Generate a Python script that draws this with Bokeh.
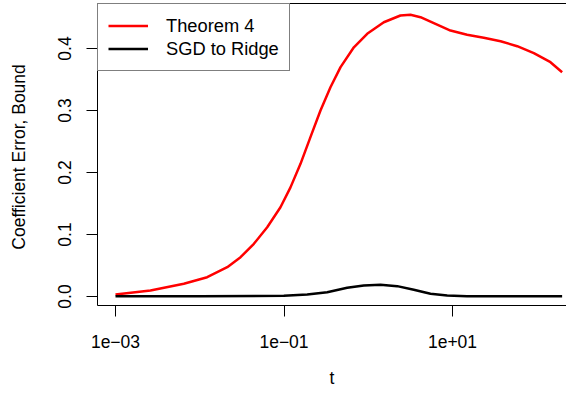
from bokeh.plotting import figure
from bokeh.models import (Range1d, FixedTicker, LinearAxis, Legend, LegendItem,
                          CustomJSTickFormatter, PrintfTickFormatter)
from bokeh.embed import file_html
from bokeh.resources import INLINE

# ---- data ----
theorem_t = [0.001, 0.0026, 0.00647, 0.01225, 0.0212, 0.0305, 0.0439, 0.0632, 0.0908,
             0.1194, 0.157, 0.206, 0.271, 0.356, 0.469, 0.675, 0.971, 1.53, 2.41,
             3.17, 4.17, 6.0, 9.46, 14.9, 23.5, 37.2, 58.6, 92.3, 145.5, 200]
theorem_v = [0.0032, 0.0097, 0.0205, 0.0311, 0.0473, 0.0634, 0.085, 0.1118, 0.144,
             0.176, 0.214, 0.257, 0.300, 0.3376, 0.370, 0.402, 0.4237, 0.4424, 0.4532,
             0.4544, 0.4505, 0.4408, 0.429, 0.4221, 0.4173, 0.4118, 0.4037, 0.3924, 0.3779, 0.3618]

sgd_t = [0.001, 0.01, 0.0995, 0.1885, 0.3256, 0.5625, 0.885, 1.398, 2.206, 3.473,
         5.48, 8.65, 14.9, 200]
sgd_v = [0.0005, 0.0006, 0.0011, 0.0032, 0.0069, 0.014, 0.0177, 0.0188, 0.0167, 0.0108,
         0.0043, 0.0016, 0.0005, 0.0005]

x_tick_vals = [0.001, 0.1, 10]
x_tick_labels = ["1e\u221203", "1e\u221201", "1e+01"]
y_tick_vals = [0.0, 0.1, 0.2, 0.3, 0.4]

FONT = "Liberation Sans"
FS = "17.5px"

p = figure(x_axis_type="log", output_backend="svg", toolbar_location=None,
           frame_width=469, frame_height=302,
           min_border_left=97, min_border_right=0, min_border_top=3, min_border_bottom=80,
           x_range=Range1d(10 ** -3.2136, 10 ** 2.353),
           y_range=Range1d(-0.01452, 0.4726))
p.outline_line_color = None
p.grid.visible = False
p.background_fill_color = "white"
p.border_fill_color = "white"

r1 = p.line(theorem_t, theorem_v, line_color="#ff0000", line_width=2.5, line_join="round")
r2 = p.line(sgd_t, sgd_v, line_color="black", line_width=2.5, line_join="round")

# x axis
xa = p.xaxis[0]
xa.ticker = FixedTicker(ticks=x_tick_vals)
xa.formatter = CustomJSTickFormatter(args=dict(vals=x_tick_vals, labs=x_tick_labels), code="""
let best = 0; let d = Infinity;
for (let i = 0; i < vals.length; i++) {
  const e = Math.abs(Math.log10(tick) - Math.log10(vals[i]));
  if (e < d) { d = e; best = i; }
}
return labs[best];
""")
xa.axis_label = "t"

# y axis
ya = p.yaxis[0]
ya.ticker = FixedTicker(ticks=y_tick_vals)
ya.formatter = PrintfTickFormatter(format="%.1f")
ya.axis_label = "Coefficient Error,  Bound"
ya.major_label_orientation = "vertical"

for ax in (xa, ya):
    ax.minor_tick_line_color = None
    ax.major_tick_out = 11
    ax.major_tick_in = 0
    ax.major_tick_line_color = "black"
    ax.axis_line_color = "black"
    ax.axis_line_width = 1
    ax.major_label_text_font = FONT
    ax.major_label_text_font_size = FS
    ax.major_label_text_color = "black"
    ax.axis_label_text_font = FONT
    ax.axis_label_text_font_size = FS
    ax.axis_label_text_font_style = "normal"
    ax.axis_label_text_color = "black"

xa.major_label_standoff = 18
xa.axis_label_standoff = 17
ya.major_label_standoff = 15
ya.axis_label_standoff = 27

# top border line
top = LinearAxis(ticker=FixedTicker(ticks=[]), major_tick_out=0, major_tick_in=0,
                 minor_tick_out=0, minor_tick_in=0, major_label_standoff=0,
                 axis_label_standoff=0, major_label_text_font_size="0px",
                 axis_line_color="black")
p.add_layout(top, "above")

legend = Legend(items=[LegendItem(label="Theorem 4", renderers=[r1]),
                       LegendItem(label="SGD to Ridge", renderers=[r2])],
                location="top_left", margin=0, padding=10, spacing=0,
                glyph_width=40, glyph_height=23, label_height=23, label_standoff=18,
                border_line_color="black", border_line_width=1,
                label_text_font=FONT, label_text_font_size="18.3px", label_text_color="black",
                background_fill_color="white", background_fill_alpha=1)
p.add_layout(legend)

open("out.html", "w").write(file_html(p, INLINE))
